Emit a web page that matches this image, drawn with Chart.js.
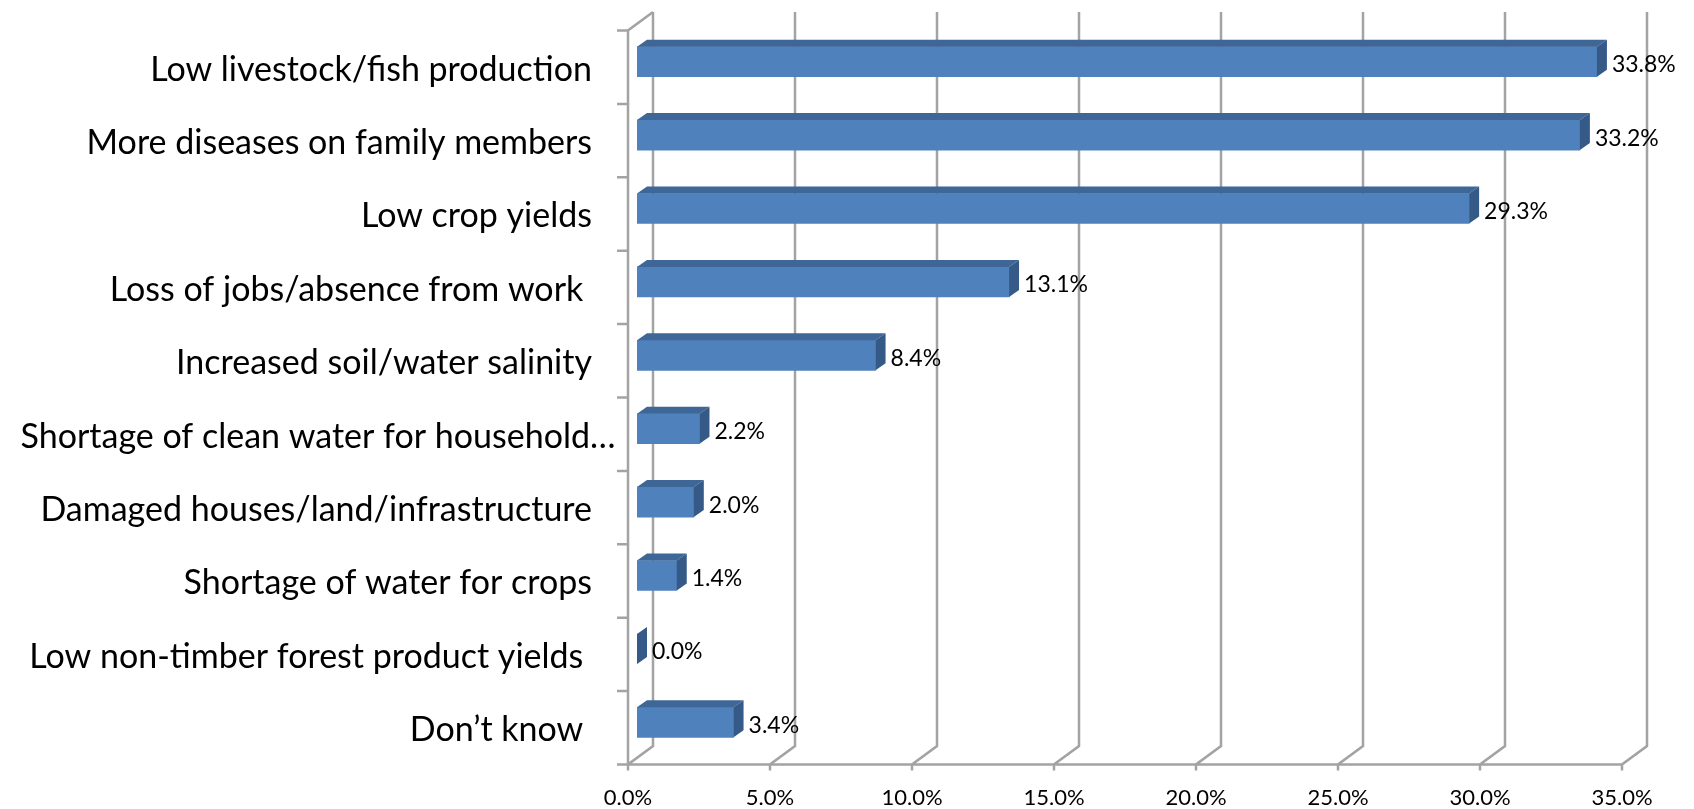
<!DOCTYPE html>
<html>
<head>
<meta charset="utf-8">
<title>Perceived impacts</title>
<script src="https://cdn.jsdelivr.net/npm/chart.js@4.4.1/dist/chart.umd.min.js"></script>
<style>
  html, body { margin: 0; padding: 0; background: #fff; }
  #wrap { width: 1694px; height: 809px; position: relative; }
</style>
</head>
<body>
<div id="wrap"><canvas id="impacts"></canvas></div>
<script>
const categories = [
  "Low livestock/fish production",
  "More diseases on family members",
  "Low crop yields",
  "Loss of jobs/absence from work ",
  "Increased soil/water salinity",
  "Shortage of clean water for household…",
  "Damaged houses/land/infrastructure",
  "Shortage of water for crops",
  "Low non-timber forest product yields ",
  "Don’t know "
];
const shares = [33.8, 33.2, 29.3, 13.1, 8.4, 2.2, 2.0, 1.4, 0.0, 3.4];
const axisMax = 35;
const axisStep = 5;

// pseudo 3d: the bars live on a middle plane, walls are shifted from it
const FRONT = { dx: -9, dy: 5.5 };   // front edge of floor / left wall
const BACK = { dx: 16, dy: -13 };    // back wall
const DEPTH = { dx: 10, dy: -7 };    // depth of one bar
const WALL = "#a3a3a3";
const FONT = "Lato";
const LABEL_GAP = 45;

const walls = {
  id: "walls",
  beforeDatasetsDraw(chart) {
    const { ctx, chartArea: a, scales: { x } } = chart;
    const x0 = x.getPixelForValue(0);
    const fx0 = x0 + FRONT.dx;
    const fyTop = a.top + FRONT.dy, fyBot = a.bottom + FRONT.dy;
    ctx.save();
    ctx.strokeStyle = WALL;
    ctx.lineWidth = 2.5;
    ctx.beginPath();
    // back wall gridlines running down into the floor diagonals and front ticks
    for (let v = 0; v <= axisMax; v += axisStep) {
      const px = x.getPixelForValue(v);
      ctx.moveTo(px + BACK.dx, a.top + BACK.dy);
      ctx.lineTo(px + BACK.dx, a.bottom + BACK.dy);
      ctx.lineTo(px + FRONT.dx, fyBot);
      ctx.lineTo(px + FRONT.dx, fyBot + 6);
    }
    // floor front edge
    ctx.moveTo(fx0, fyBot);
    ctx.lineTo(x.getPixelForValue(axisMax) + FRONT.dx, fyBot);
    // left wall
    ctx.moveTo(x0 + BACK.dx, a.top + BACK.dy);
    ctx.lineTo(fx0, fyTop);
    ctx.lineTo(fx0, fyBot);
    const band = (a.bottom - a.top) / categories.length;
    for (let i = 0; i <= categories.length; i++) {
      const ty = fyTop + i * band;
      ctx.moveTo(fx0 - 11, ty);
      ctx.lineTo(fx0, ty);
    }
    ctx.stroke();
    ctx.restore();
  }
};

// category names, right aligned; a trailing ellipsis hangs past the edge
const categoryLabels = {
  id: "categoryLabels",
  afterDraw(chart) {
    const { ctx, chartArea: a, scales: { y } } = chart;
    ctx.save();
    ctx.fillStyle = "#000";
    ctx.font = "34px " + FONT;
    ctx.textAlign = "right";
    ctx.textBaseline = "middle";
    categories.forEach((name, i) => {
      let right = a.left - LABEL_GAP;
      if (name.endsWith("…")) right += ctx.measureText("…").width - 2;
      ctx.fillText(name, right, y.getPixelForValue(i) + 8);
    });
    ctx.restore();
  }
};

const barSides = {
  id: "barSides",
  afterDatasetsDraw(chart) {
    const { ctx } = chart;
    const meta = chart.getDatasetMeta(0);
    ctx.save();
    meta.data.forEach((bar, i) => {
      const { x, y, base, height } = bar.getProps(["x", "y", "base", "height"], true);
      const top = y - height / 2, bot = y + height / 2;
      // top face
      ctx.fillStyle = "#3e6696";
      ctx.beginPath();
      ctx.moveTo(base, top);
      ctx.lineTo(x, top);
      ctx.lineTo(x + DEPTH.dx, top + DEPTH.dy);
      ctx.lineTo(base + DEPTH.dx, top + DEPTH.dy);
      ctx.closePath();
      ctx.fill();
      // end face
      ctx.fillStyle = "#355a88";
      ctx.beginPath();
      ctx.moveTo(x, top);
      ctx.lineTo(x + DEPTH.dx, top + DEPTH.dy);
      ctx.lineTo(x + DEPTH.dx, bot + DEPTH.dy);
      ctx.lineTo(x, bot);
      ctx.closePath();
      ctx.fill();
      // value
      ctx.fillStyle = "#000";
      ctx.font = "23px " + FONT;
      ctx.textAlign = "left";
      ctx.textBaseline = "middle";
      ctx.fillText(shares[i].toFixed(1) + "%", x + 15, y + 3);
    });
    ctx.restore();
  }
};

new Chart(document.getElementById("impacts"), {
  type: "bar",
  data: {
    labels: categories,
    datasets: [{
      data: shares,
      backgroundColor: "#4f81bd",
      barThickness: 30
    }]
  },
  plugins: [walls, barSides, categoryLabels],
  options: {
    indexAxis: "y",
    responsive: true,
    maintainAspectRatio: false,
    animation: false,
    layout: { padding: { top: 25, right: 63, bottom: 0, left: 0 } },
    plugins: {
      legend: { display: false },
      tooltip: { enabled: false }
    },
    scales: {
      x: {
        min: 0,
        max: axisMax,
        grid: { display: false, drawTicks: false },
        border: { display: false },
        ticks: {
          stepSize: axisStep,
          callback: v => v.toFixed(1) + "%",
          labelOffset: FRONT.dx,
          padding: 26,
          maxRotation: 0,
          color: "#000",
          font: { family: FONT, size: 22 }
        },
        afterFit(s) {
          s.height = 50;
          s.paddingLeft = 0;
          s.paddingRight = 0;
        }
      },
      y: {
        grid: { display: false, drawTicks: false },
        border: { display: false },
        ticks: { display: false },
        afterFit(s) {
          s.width = 637;
          s.paddingTop = 0;
          s.paddingBottom = 0;
        }
      }
    }
  }
});
</script>
</body>
</html>
